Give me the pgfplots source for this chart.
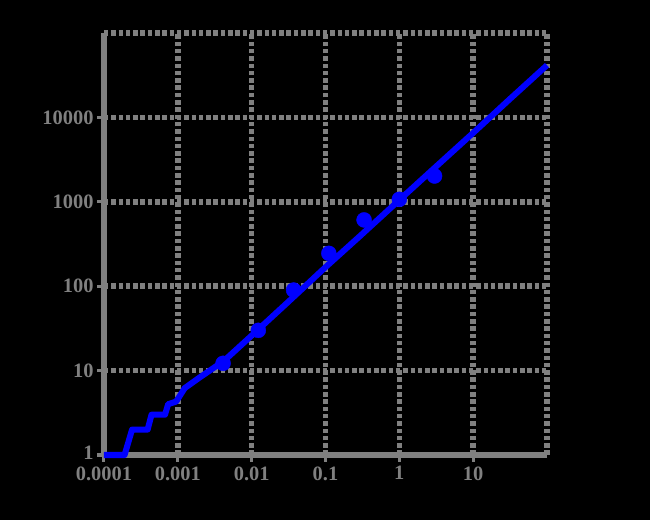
\documentclass[border=0pt]{standalone}
\usepackage{pgfplots}
\pgfplotsset{compat=1.18}
\usepackage{fontspec}
\setmainfont{Liberation Serif}
\begin{document}
\begin{tikzpicture}
\fill[black] (-104bp,-65bp) rectangle (546bp,455bp);
\begin{axis}[
  at={(0,0)}, anchor=south west,
  scale only axis, width=443bp, height=422bp,
  xmode=log, ymode=log,
  xmin=1e-4, xmax=100, ymin=1, ymax=1e5,
  axis x line=bottom, axis y line=left,
  axis line style={-, draw=gray, line width=5.5bp},
  xtick={1e-4,1e-3,1e-2,1e-1,1,10},
  xticklabels={0.0001,0.001,0.01,0.1,1,10},
  ytick={1,10,100,1000,10000},
  yticklabels={\raisebox{4bp}{1},10,100,1000,10000},
  extra x ticks={100}, extra x tick labels={},
  extra y ticks={100000}, extra y tick labels={},
  extra tick style={major tick length=0pt, grid=major},
  tick align=outside,
  major tick length=7bp,
  minor tick length=0pt,
  tick style={draw=gray, line width=3bp},
  grid=major,
  grid style={draw=gray, line width=5.5bp, dash pattern=on 4.5bp off 2.8bp},
  major grid style={draw=gray, line width=5.5bp, dash pattern=on 4.5bp off 2.8bp},
  /pgf/number format/assume math mode=true,
  ticklabel style={font=\bfseries\fontsize{20.5}{20.5}\selectfont, text=gray},
  xticklabel style={yshift=-1bp},
  clip=false,
]
\addplot[blue, line width=6bp, line join=round] coordinates {
(1e-4,1) (1.9e-4,1) (2.4e-4,2) (3.9e-4,2) (4.4e-4,3) (6.7e-4,3) (7.4e-4,4) (9.5e-4,4.3)
(0.00124,6.2) (0.00194,8.2) (0.0042,13.0) (0.01,26) (0.03,63) (0.1,168) (0.3,400)
(1,1050) (3,2520) (10,6550) (30,15900) (100,41500)
};
\addplot[only marks, mark=*, mark size=7.5bp, color=blue] coordinates {
(0.0041,12.2) (0.0123,30) (0.037,90) (0.111,245) (0.333,610) (1,1070) (3,2020)
};
\end{axis}
\pgfresetboundingbox
\path (-104bp,-65bp) rectangle (546bp,455bp);
\end{tikzpicture}
\end{document}
